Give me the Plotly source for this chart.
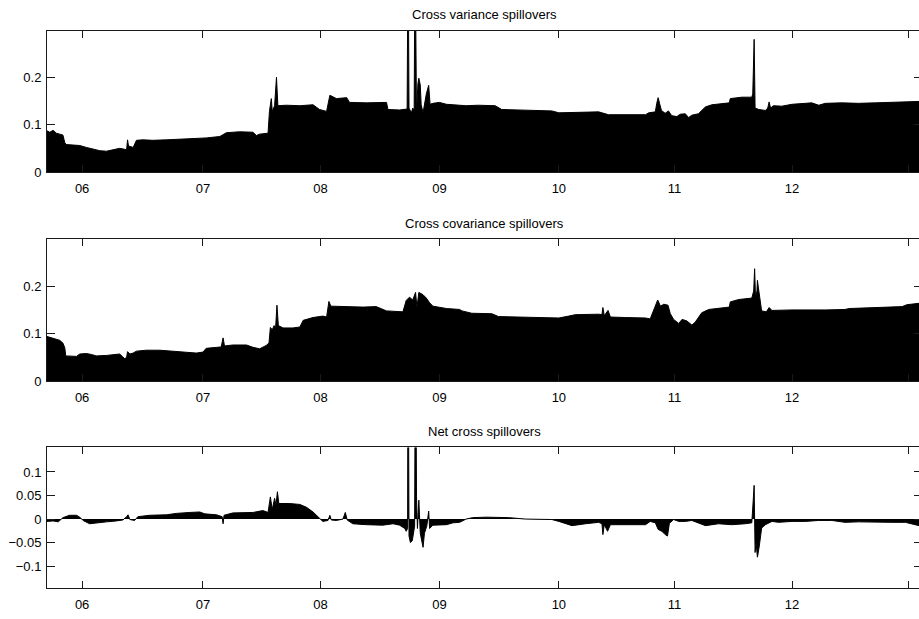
import plotly.graph_objects as go

# x = trading-day observation index (0 = first observation, mid-Sept 2005)
year_tick_idx = [75, 333, 584, 838, 1093, 1340, 1591, 1839]
year_tick_lbl = ["06", "07", "08", "09", "10", "11", "12", ""]
x_end = 1862

# Cross variance spillovers
var_idx = [0, 6, 13, 20, 27, 34, 38, 41, 56, 70, 84, 98, 113, 127, 141, 155, 166, 170, 172, 174,
           184, 191, 205, 226, 255, 283, 312, 340, 369, 383, 411, 440, 447, 454, 472, 475, 479, 481,
           486, 490, 493, 511, 540, 568, 582, 597, 604, 618, 640, 646, 682, 725, 728, 753, 769, 771,
           773, 778, 781, 784, 786, 789, 792, 794, 797, 799, 803, 806, 810, 815, 818, 824, 838, 853,
           870, 895, 921, 957, 971, 1021, 1078, 1093, 1150, 1178, 1199, 1278, 1285, 1299, 1302, 1305,
           1308, 1312, 1320, 1327, 1334, 1345, 1352, 1363, 1370, 1377, 1391, 1406, 1420, 1448, 1457,
           1459, 1484, 1505, 1507, 1510, 1512, 1520, 1534, 1539, 1542, 1545, 1551, 1569, 1591, 1619,
           1633, 1648, 1662, 1697, 1733, 1769, 1804, 1840, 1862]
var_val = [0.087, 0.084, 0.088, 0.082, 0.080, 0.078, 0.062, 0.058, 0.057, 0.056, 0.052, 0.048, 0.045,
           0.044, 0.047, 0.050, 0.048, 0.047, 0.068, 0.055, 0.052, 0.067, 0.068, 0.067, 0.068, 0.069,
           0.070, 0.072, 0.075, 0.083, 0.085, 0.084, 0.077, 0.080, 0.082, 0.128, 0.155, 0.128, 0.140,
           0.200, 0.140, 0.141, 0.140, 0.142, 0.132, 0.128, 0.162, 0.155, 0.157, 0.147, 0.146, 0.147,
           0.132, 0.131, 0.133, 0.500, 0.135, 0.125, 0.135, 0.130, 0.500, 0.120, 0.186, 0.198, 0.184,
           0.142, 0.125, 0.142, 0.165, 0.183, 0.143, 0.145, 0.147, 0.143, 0.142, 0.140, 0.141, 0.140,
           0.132, 0.130, 0.129, 0.125, 0.126, 0.127, 0.121, 0.121, 0.125, 0.127, 0.145, 0.157, 0.145,
           0.130, 0.124, 0.129, 0.119, 0.117, 0.122, 0.123, 0.115, 0.120, 0.123, 0.1375, 0.142, 0.144,
           0.146, 0.155, 0.158, 0.158, 0.165, 0.280, 0.135, 0.132, 0.130, 0.135, 0.148, 0.135, 0.140,
           0.139, 0.143, 0.145, 0.146, 0.141, 0.145, 0.146, 0.145, 0.146, 0.147, 0.148, 0.149]

# Cross covariance spillovers
cov_idx = [0, 6, 16, 27, 34, 38, 40, 52, 63, 70, 84, 95, 105, 127, 141, 155, 161, 166, 170, 172, 177,
           184, 191, 212, 241, 269, 298, 319, 333, 340, 362, 372, 376, 379, 397, 426, 440, 454, 468,
           474, 477, 481, 485, 488, 491, 494, 504, 525, 540, 547, 568, 589, 597, 602, 606, 640, 675,
           703, 717, 725, 760, 767, 774, 781, 787, 790, 794, 803, 810, 817, 824, 853, 881, 886, 907,
           950, 964, 1021, 1093, 1114, 1128, 1178, 1185, 1187, 1190, 1198, 1203, 1235, 1278, 1288,
           1295, 1304, 1310, 1317, 1326, 1331, 1338, 1349, 1356, 1366, 1377, 1384, 1398, 1413, 1448,
           1457, 1459, 1477, 1505, 1509, 1511, 1513, 1516, 1517, 1520, 1523, 1526, 1536, 1542, 1548,
           1591, 1662, 1704, 1713, 1769, 1826, 1836, 1862]
cov_val = [0.094, 0.092, 0.089, 0.086, 0.080, 0.070, 0.053, 0.052, 0.052, 0.057, 0.058, 0.056, 0.053,
           0.054, 0.055, 0.057, 0.052, 0.047, 0.050, 0.062, 0.057, 0.059, 0.063, 0.065, 0.065, 0.063,
           0.062, 0.059, 0.061, 0.069, 0.071, 0.072, 0.091, 0.074, 0.076, 0.076, 0.071, 0.068, 0.075,
           0.080, 0.113, 0.108, 0.117, 0.110, 0.160, 0.117, 0.112, 0.112, 0.114, 0.128, 0.134, 0.137,
           0.135, 0.168, 0.158, 0.157, 0.156, 0.157, 0.151, 0.148, 0.146, 0.170, 0.177, 0.171, 0.187,
           0.155, 0.187, 0.182, 0.175, 0.165, 0.158, 0.153, 0.151, 0.148, 0.143, 0.142, 0.136, 0.134,
           0.133, 0.137, 0.140, 0.141, 0.140, 0.155, 0.138, 0.149, 0.135, 0.134, 0.133, 0.131, 0.148,
           0.171, 0.158, 0.162, 0.160, 0.142, 0.130, 0.1215, 0.130, 0.127, 0.118, 0.124, 0.144, 0.151,
           0.155, 0.156, 0.167, 0.172, 0.175, 0.190, 0.237, 0.175, 0.190, 0.2125, 0.190, 0.170, 0.148,
           0.146, 0.155, 0.149, 0.150, 0.150, 0.151, 0.153, 0.155, 0.157, 0.161, 0.164]

# Net cross spillovers
net_idx = [0, 13, 24, 34, 48, 63, 70, 77, 91, 105, 127, 148, 162, 170, 173, 177, 187, 194, 219, 255,
           276, 305, 326, 337, 362, 374, 376, 378, 397, 440, 461, 472, 475, 477, 481, 486, 489, 492,
           495, 518, 540, 554, 568, 579, 589, 600, 604, 607, 618, 632, 637, 641, 653, 682, 717, 739,
           753, 764, 767, 770, 771, 773, 776, 780, 782, 785, 787, 789, 791, 794, 797, 800, 803, 806,
           811, 815, 817, 824, 853, 867, 881, 895, 909, 938, 967, 986, 1021, 1078, 1093, 1121, 1150,
           1178, 1185, 1187, 1190, 1197, 1203, 1235, 1278, 1288, 1299, 1305, 1313, 1320, 1325, 1329,
           1338, 1349, 1363, 1377, 1391, 1406, 1434, 1462, 1491, 1505, 1510, 1512, 1514, 1517, 1521,
           1526, 1534, 1548, 1562, 1591, 1619, 1648, 1676, 1704, 1733, 1769, 1804, 1833, 1847, 1862]
net_val = [-0.005, -0.004, -0.006, 0.003, 0.008, 0.008, 0.004, -0.003, -0.010, -0.008, -0.006, -0.004,
           -0.002, 0.005, 0.009, -0.001, -0.003, 0.005, 0.008, 0.009, 0.012, 0.014, 0.015, 0.011, 0.009,
           0.005, -0.010, 0.008, 0.013, 0.014, 0.018, 0.014, 0.040, 0.047, 0.020, 0.044, 0.030, 0.058,
           0.033, 0.033, 0.031, 0.025, 0.015, 0.004, -0.005, -0.003, 0.008, -0.002, -0.003, 0.000,
           0.014, -0.002, -0.010, -0.012, -0.013, -0.010, -0.013, -0.020, -0.026, -0.020, 0.500,
           -0.036, -0.050, -0.046, -0.029, -0.015, 0.500, 0.047, -0.020, 0.040, -0.030, -0.045, -0.060,
           -0.030, -0.015, 0.017, -0.020, -0.013, -0.012, -0.008, -0.007, 0.000, 0.003, 0.004, 0.004,
           0.003, 0.000, -0.001, -0.005, -0.014, -0.010, -0.007, -0.010, -0.033, -0.012, -0.026,
           -0.012, -0.012, -0.012, -0.005, -0.008, -0.022, -0.026, -0.033, -0.036, -0.009, -0.001,
           -0.005, -0.005, -0.003, -0.008, -0.014, -0.010, -0.012, -0.010, -0.008, 0.0715, -0.071,
           -0.050, -0.081, -0.057, -0.019, -0.012, -0.005, -0.007, -0.005, -0.005, -0.003, -0.003,
           -0.007, -0.006, -0.007, -0.007, -0.007, -0.010, -0.014]

titles = ["Cross variance spillovers", "Cross covariance spillovers", "Net cross spillovers"]
series = [(var_idx, var_val), (cov_idx, cov_val), (net_idx, net_val)]
y_ranges = [[0, 0.2985], [0, 0.3006], [-0.147, 0.152]]
y_ticks = [[0, 0.1, 0.2], [0, 0.1, 0.2], [-0.1, -0.05, 0, 0.05, 0.1]]
y_tick_text = [["0", "0.1", "0.2"], ["0", "0.1", "0.2"],
               ["\u22120.1", "\u22120.05", "0", "0.05", "0.1"]]

W, H = 919, 619
ML = 47
# panel pixel extents (top, bottom)
panels_px = [(31, 174.3), (241.7, 386), (453.3, 596)]
title_px = [15, 226.7, 437.3]

FONT = dict(family="Liberation Sans, Arial, Helvetica, sans-serif", size=13, color="black")
AX = "#1a1a1a"

fig = go.Figure()
layout = dict(width=W, height=H, margin=dict(l=ML, r=0, t=0, b=0),
              paper_bgcolor="white", plot_bgcolor="white", showlegend=False,
              font=FONT, annotations=[])

for i, (xs, ys) in enumerate(series):
    n = i + 1
    xa = "x" if n == 1 else f"x{n}"
    ya = "y" if n == 1 else f"y{n}"
    fig.add_trace(go.Scatter(x=xs, y=ys, xaxis=xa, yaxis=ya, mode="lines",
                             fill="tozeroy", fillcolor="black",
                             line=dict(color="black", width=1), hoverinfo="skip"))
    top, bot = panels_px[i]
    dom = [1 - bot / H, 1 - top / H]
    layout["xaxis" if n == 1 else f"xaxis{n}"] = dict(
        domain=[0, 1], anchor=ya, range=[0, x_end], tickvals=year_tick_idx,
        ticktext=year_tick_lbl, ticks="inside", ticklen=7, tickcolor=AX, tickwidth=1,
        showline=True, linecolor=AX, linewidth=1, mirror=True,
        showgrid=False, zeroline=False, tickfont=FONT, ticklabelstandoff=4)
    layout["yaxis" if n == 1 else f"yaxis{n}"] = dict(
        domain=dom, anchor=xa, range=y_ranges[i], tickvals=y_ticks[i],
        ticktext=y_tick_text[i], ticks="inside", ticklen=8, tickcolor=AX, tickwidth=1,
        showline=True, linecolor=AX, linewidth=1, mirror=False,
        showgrid=False, zeroline=False, tickfont=FONT, ticklabelstandoff=2)
    # overlay axes: tick marks on the top edge and on the right edge
    # (the right spine itself lies just outside the picture)
    on = n + 3
    fig.add_trace(go.Scatter(x=[None], y=[None], xaxis=f"x{on}", yaxis=f"y{on}",
                             mode="lines", hoverinfo="skip"))
    layout[f"xaxis{on}"] = dict(
        overlaying=xa, side="top", anchor=f"y{on}", range=[0, x_end], tickvals=year_tick_idx,
        ticks="inside", ticklen=7, tickcolor=AX, tickwidth=1, showticklabels=False,
        showline=False, showgrid=False, zeroline=False)
    layout[f"yaxis{on}"] = dict(
        overlaying=ya, side="right", anchor=f"x{on}", domain=dom, range=y_ranges[i],
        tickvals=y_ticks[i], ticks="inside", ticklen=5, tickcolor=AX, tickwidth=1,
        showticklabels=False, showline=False, showgrid=False, zeroline=False)
    layout["annotations"].append(dict(
        text=titles[i], xref="paper", yref="paper", x=(484.5 - ML) / (W - ML),
        y=1 - title_px[i] / H, xanchor="center", yanchor="middle", showarrow=False,
        font=FONT))

fig.update_layout(**layout)
fig.write_html("out.html")
